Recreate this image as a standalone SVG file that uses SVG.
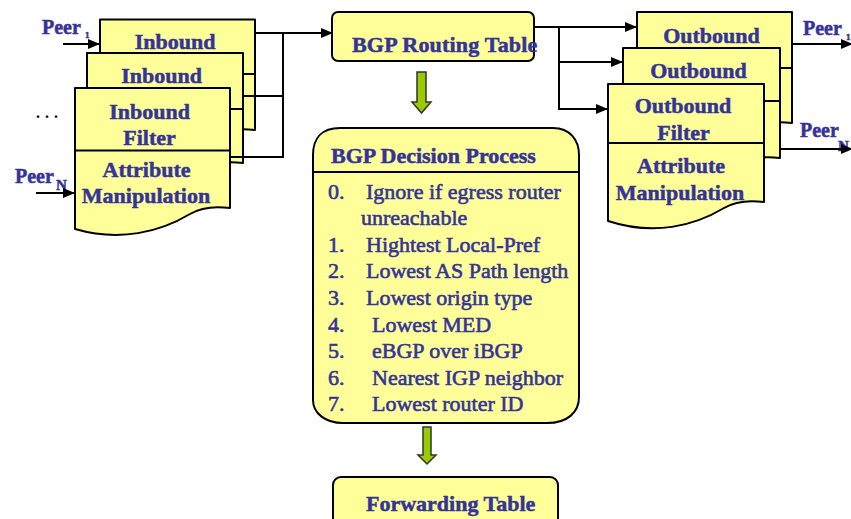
<svg xmlns="http://www.w3.org/2000/svg" width="851" height="519" viewBox="0 0 851 519">
  <style>
    .box { fill: #FFFF99; stroke: #000; stroke-width: 2; stroke-linejoin: round; }
    .div { fill: none; stroke: #000; stroke-width: 2; }
    .wire { fill: none; stroke: #000; stroke-width: 2; }
    .flow { fill: #99CC00; stroke: #333; stroke-width: 1.5; stroke-linejoin: miter; }
    .t { font-family: "Liberation Serif", "Times New Roman", serif; font-weight: bold; font-size: 22px; fill: #333399; stroke: #333399; stroke-width: 0.5; }
    .c { text-anchor: middle; }
    .li { font-family: "Liberation Serif", "Times New Roman", serif; font-size: 22px; fill: #333399; stroke: #333399; stroke-width: 0.6; }
    .peer { font-family: "Liberation Serif", "Times New Roman", serif; font-weight: bold; font-size: 20px; fill: #333399; stroke: #333399; stroke-width: 0.5; }
  </style>
  <defs>
    <marker id="arrow" markerUnits="userSpaceOnUse" markerWidth="12" markerHeight="10" refX="12" refY="5" orient="auto">
      <path d="M0,0 L12,5 L0,10 Z" fill="#000"/>
    </marker>
  </defs>

  <!-- inbound filter stack (back to front) -->
  <g id="inbound-3">
    <path class="box" d="M100,19.5 H255 V130 C240,128 225,130 215,136 C185,154 145,164 100,151 Z"/>
    <path class="div" d="M100,74 H255"/>
    <text class="t c" x="175" y="49">Inbound</text>
  </g>
  <g id="inbound-2">
    <path class="box" d="M87,53 H243 V163 C228,161 213,163 203,169 C173,187 133,197 87,184 Z"/>
    <path class="div" d="M87,109 H243"/>
    <text class="t c" x="161.5" y="83">Inbound</text>
  </g>
  <g id="inbound-1">
    <path class="box" d="M75,88 H230 V208 C215,206 200,208 190,214 C160,232 120,242 75,229 Z"/>
    <path class="div" d="M75,150.5 H230"/>
    <text class="t c" x="149.5" y="119">Inbound</text>
    <text class="t c" x="149.5" y="145">Filter</text>
    <text class="t c" x="146.5" y="177">Attribute</text>
    <text class="t c" x="146" y="203">Manipulation</text>
  </g>

  <!-- peer labels, input side -->
  <g id="peer-in">
    <text class="peer" x="42" y="34">Peer<tspan font-size="9" x="85" y="38">1</tspan></text>
    <text x="36" y="118" font-family="Liberation Serif, serif" font-weight="bold" font-size="16" letter-spacing="5" fill="#000">...</text>
    <text class="peer" x="15" y="183">Peer<tspan font-size="15" x="56" y="190">N</tspan></text>
  </g>

  <!-- routing table -->
  <g id="routing-table">
    <rect class="box" x="332" y="12" width="202" height="49" rx="6"/>
    <text class="t" x="352" y="52" letter-spacing="0.2">BGP Routing Table</text>
  </g>

  <!-- decision process -->
  <g id="decision-process">
    <path class="box" d="M313,155 C313,138 322,128 340,128 H553 C570,128 579,140 579,155 V397 C579,412 568,423 547,423 H343 C325,423 313,413 313,400 Z"/>
    <path class="div" d="M313,172 H579"/>
    <text class="t" x="331" y="163">BGP Decision Process</text>
    <g class="li">
      <text x="328" y="199">0.</text><text x="366" y="199">Ignore if egress router</text>
      <text x="361" y="225">unreachable</text>
      <text x="328" y="252">1.</text><text x="366" y="252">Hightest Local-Pref</text>
      <text x="328" y="278">2.</text><text x="366" y="278">Lowest AS Path length</text>
      <text x="328" y="305">3.</text><text x="366" y="305">Lowest origin type</text>
      <text x="328" y="332">4.</text><text x="372" y="332">Lowest MED</text>
      <text x="328" y="358">5.</text><text x="372" y="358">eBGP over iBGP</text>
      <text x="328" y="385">6.</text><text x="372" y="385">Nearest IGP neighbor</text>
      <text x="328" y="411">7.</text><text x="372" y="411">Lowest router ID</text>
    </g>
  </g>

  <!-- forwarding table -->
  <g id="forwarding-table">
    <rect class="box" x="333" y="477" width="225" height="60" rx="8"/>
    <text class="t" x="366" y="511">Forwarding Table</text>
  </g>

  <!-- outbound filter stack (back to front) -->
  <g id="outbound-3">
    <path class="box" d="M637,12 H792 V123 C777,121 762,123 752,129 C722,147 682,157 637,142 Z"/>
    <path class="div" d="M637,68 H792"/>
    <text class="t c" x="711.5" y="43">Outbound</text>
  </g>
  <g id="outbound-2">
    <path class="box" d="M623,48 H780 V158 C765,156 750,158 740,164 C710,182 670,192 623,177 Z"/>
    <path class="div" d="M623,101 H780"/>
    <text class="t c" x="698.5" y="78">Outbound</text>
  </g>
  <g id="outbound-1">
    <path class="box" d="M608,84 H764 V202 C749,200 734,202 724,208 C694,226 654,236 608,221 Z"/>
    <path class="div" d="M608,143 H764"/>
    <text class="t c" x="683" y="113">Outbound</text>
    <text class="t c" x="683.5" y="140">Filter</text>
    <text class="t c" x="681" y="173">Attribute</text>
    <text class="t c" x="680" y="200">Manipulation</text>
  </g>

  <!-- peer labels, output side -->
  <g id="peer-out">
    <text class="peer" x="803" y="35">Peer<tspan font-size="9" x="846" y="40">1</tspan></text>
    <text class="peer" x="800" y="137">Peer<tspan font-size="15" x="838" y="151">N</tspan></text>
  </g>

  <!-- connectors -->
  <g id="connectors">
    <path class="wire" d="M63,44 H100" marker-end="url(#arrow)"/>
    <path class="wire" d="M36,193 H75" marker-end="url(#arrow)"/>
    <path class="wire" d="M255,33 H333" marker-end="url(#arrow)"/>
    <path class="wire" d="M283,33 V157"/>
    <path class="wire" d="M243,96 H283"/>
    <path class="wire" d="M230,157 H284"/>
    <path class="wire" d="M534,27 H637" marker-end="url(#arrow)"/>
    <path class="wire" d="M559,27 V109"/>
    <path class="wire" d="M559,62 H623" marker-end="url(#arrow)"/>
    <path class="wire" d="M558,109 H608" marker-end="url(#arrow)"/>
    <path class="wire" d="M792,44 H853" marker-end="url(#arrow)"/>
    <path class="wire" d="M780,149 H853" marker-end="url(#arrow)"/>
    <path class="flow" d="M417,72 H426 V102 H431 L421.5,113 L412,102 H417 Z"/>
    <path class="flow" d="M423,427 H431 V455 H436 L427,464 L418,455 H423 Z"/>
  </g>
</svg>
